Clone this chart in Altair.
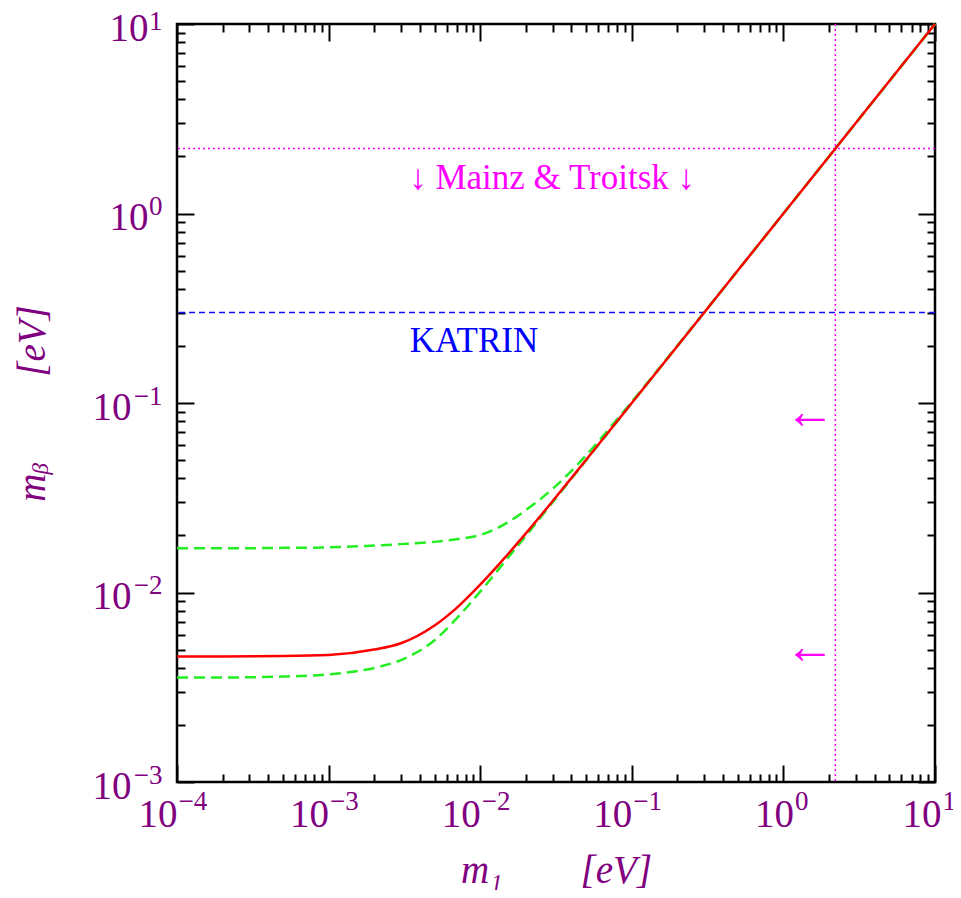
import altair as alt
import pandas as pd

# ---------------- data ----------------
m1 = [1e-4, 2e-4, 5e-4, 1e-3, 2e-3, 3e-3, 5e-3, 7e-3, 1e-2, 1.5e-2, 2e-2,
      3e-2, 5e-2, 7e-2, 0.1, 0.2, 0.5, 1.0, 2.0, 5.0, 10.0]
m_beta_best = [0.0046, 0.0046, 0.00462, 0.00468, 0.0050, 0.0054, 0.0067, 0.0083,
               0.0110, 0.0157, 0.0205, 0.0303, 0.0502, 0.0701, 0.100, 0.200,
               0.500, 1.0, 2.0, 5.0, 10.0]
m_beta_low = [0.00356, 0.00356, 0.0036, 0.0037, 0.0040, 0.0044, 0.0056, 0.0073,
              0.0101, 0.0150, 0.0199, 0.0299, 0.0499, 0.0699, 0.0999, 0.200,
              0.500, 1.0, 2.0, 5.0, 10.0]
m_beta_high = [0.0171, 0.0171, 0.0172, 0.0173, 0.0177, 0.0180, 0.0185, 0.0191,
               0.0201, 0.0233, 0.0272, 0.0352, 0.0530, 0.0723, 0.1015, 0.2008,
               0.500, 1.0, 2.0, 5.0, 10.0]

mainz_troitsk_limit = [2.2]
katrin_sensitivity = [0.3]

annot_text = ["↓ Mainz & Troitsk ↓", "KATRIN"]
annot_x = [0.0298, 0.0091]
annot_y = [1.54, 0.212]
annot_color = ["#ff00ff", "#0000ff"]

arrow_x = [1.5, 1.5]
arrow_y = [0.089, 0.00512]

x_decades = [1e-4, 1e-3, 1e-2, 1e-1, 1.0, 10.0]
y_decades = [1e-3, 1e-2, 1e-1, 1.0, 10.0]
x_exponents = [-4, -3, -2, -1, 0, 1]
y_exponents = [-3, -2, -1, 0, 1]
x_exp_labels = ["−4", "−3", "−2", "−1", "0", "1"]
y_exp_labels = ["−3", "−2", "−1", "0", "1"]
mantissa_label = "10"
minor_multipliers = [1, 2, 3, 4, 5, 6, 7, 8, 9]

x_title = "m₁\u2003\u2003[eV]"
y_title = "mᵦ\u2003\u2003\u2009[eV]"

# ---------------- styling ----------------
W = 758
H = 758
PURPLE = "#800080"
GREEN = "#22ee22"
FONT = "Liberation Serif"
LABEL_SIZE = 39
EXP_SIZE = 27

x_ticks = [d * k for d in x_decades[:-1] for k in minor_multipliers] + [x_decades[-1]]
y_ticks = [d * k for d in y_decades[:-1] for k in minor_multipliers] + [y_decades[-1]]

MAJOR = "abs(log(datum.value)/LN10 - round(log(datum.value)/LN10)) < 0.001"
NEG = "datum.value < 0.99"
LAST = "datum.value > 5"


def exp_expr(exps, labels):
    expr = "''"
    for e, l in reversed(list(zip(exps, labels))):
        expr = f"round(log(datum.value)/LN10) == {e} ? '{l}' : ({expr})"
    return expr


def cond(neg_value, pos_value):
    return {"condition": {"test": NEG, "value": neg_value}, "value": pos_value}


def cond3(neg_value, last_value, pos_value):
    return {"condition": [{"test": NEG, "value": neg_value},
                          {"test": LAST, "value": last_value}],
            "value": pos_value}


xscale = alt.Scale(type="log", domain=[x_decades[0], x_decades[-1]], nice=False)
yscale = alt.Scale(type="log", domain=[y_decades[0], y_decades[-1]], nice=False)


def tick_axis(orient, values):
    return alt.Axis(orient=orient, offset=-W, values=values, labels=False,
                    title=None, domain=False, grid=False, ticks=True,
                    tickColor="black", tickWidth=2,
                    tickSize={"condition": {"test": MAJOR, "value": 17}, "value": 8})


common_lab = dict(ticks=False, tickSize=0, domain=False, grid=False, title=None,
                  labelFont=FONT, labelColor=PURPLE, labelFlush=False,
                  labelOverlap=False, labelBaseline="alphabetic")

x_mant_axis = alt.Axis(orient="bottom", values=x_decades, labelExpr=f"'{mantissa_label}'",
                       labelFontSize=LABEL_SIZE, labelAlign="right", labelPadding=44,
                       labelOffset=cond3(0, 6, 10), **common_lab)
x_exp_axis = alt.Axis(orient="bottom", values=x_decades,
                      labelExpr=exp_expr(x_exponents, x_exp_labels),
                      labelFontSize=EXP_SIZE, labelAlign="left", labelPadding=27,
                      labelOffset=cond3(1, 7, 11), **common_lab)
y_mant_axis = alt.Axis(orient="left", values=y_decades, labelExpr=f"'{mantissa_label}'",
                       labelFontSize=LABEL_SIZE, labelAlign="right",
                       labelPadding=cond(46, 29), labelOffset=16, **common_lab)
y_exp_axis = alt.Axis(orient="left", values=y_decades,
                      labelExpr=exp_expr(y_exponents, y_exp_labels),
                      labelFontSize=EXP_SIZE, labelAlign="right", labelPadding=15,
                      labelOffset={"condition": {"test": LAST, "value": 5}, "value": 1},
                      **common_lab)

title_common = dict(labels=False, ticks=False, tickSize=0, domain=False, grid=False,
                    titleFont=FONT, titleFontSize=LABEL_SIZE, titleFontStyle="italic",
                    titleFontWeight="normal", titleColor=PURPLE,
                    titleBaseline="alphabetic")
x_title_axis = alt.Axis(orient="bottom", title=x_title, titleY=100, **title_common)
y_title_axis = alt.Axis(orient="left", title=y_title, titleX=-133, titleAngle=270,
                        **title_common)

curves = pd.DataFrame({
    "m1": m1 * 3,
    "mb": m_beta_best + m_beta_low + m_beta_high,
    "series": ["best"] * len(m1) + ["low"] * len(m1) + ["high"] * len(m1),
})
green_df = curves[curves.series != "best"]
red_df = curves[curves.series == "best"]

green = alt.Chart(green_df).mark_line(
    color=GREEN, strokeWidth=2.5, strokeDash=[11, 6], interpolate="monotone"
).encode(
    x=alt.X("m1:Q", scale=xscale, axis=x_exp_axis),
    y=alt.Y("mb:Q", scale=yscale, axis=y_exp_axis),
    detail="series:N",
)

red = alt.Chart(red_df).mark_line(
    color="#ff0000", strokeWidth=2.5, interpolate="monotone"
).encode(
    x=alt.X("m1:Q", scale=xscale, axis=x_mant_axis),
    y=alt.Y("mb:Q", scale=yscale, axis=y_mant_axis),
)

h_mainz = alt.Chart(pd.DataFrame({"y": mainz_troitsk_limit})).mark_rule(
    color="#ff00ff", strokeWidth=1.5, strokeDash=[2, 3]
).encode(y=alt.Y("y:Q", scale=yscale, axis=tick_axis("right", y_ticks)))

h_katrin = alt.Chart(pd.DataFrame({"y": katrin_sensitivity})).mark_rule(
    color="#1010ff", strokeWidth=1.5, strokeDash=[6, 4]
).encode(y=alt.Y("y:Q", scale=yscale, axis=None))

v_mainz = alt.Chart(pd.DataFrame({"x": mainz_troitsk_limit})).mark_rule(
    color="#ff00ff", strokeWidth=1.5, strokeDash=[2, 3]
).encode(x=alt.X("x:Q", scale=xscale, axis=tick_axis("bottom", x_ticks)))

annot = alt.Chart(pd.DataFrame({
    "x": annot_x, "y": annot_y, "t": annot_text, "c": annot_color
})).mark_text(font=FONT, fontSize=35, align="center", baseline="middle").encode(
    x=alt.X("x:Q", scale=xscale, axis=tick_axis("top", x_ticks)),
    y=alt.Y("y:Q", scale=yscale, axis=tick_axis("left", y_ticks)),
    text="t:N",
    color=alt.Color("c:N", scale=None),
)

arrows = alt.Chart(pd.DataFrame({"x": arrow_x, "y": arrow_y, "t": ["←", "←"]})).mark_text(
    font=FONT, fontSize=50, align="center", baseline="middle", color="#ff00ff"
).encode(
    x=alt.X("x:Q", scale=xscale, axis=x_title_axis),
    y=alt.Y("y:Q", scale=yscale, axis=y_title_axis),
    text="t:N",
)

chart = alt.layer(green, h_mainz, h_katrin, v_mainz, red, annot, arrows).resolve_axis(
    x="independent", y="independent"
).properties(
    width=W, height=H,
    padding={"left": 169, "top": 16, "right": 18, "bottom": 108},
    autosize=alt.AutoSizeParams(type="none"),
).configure(background="white").configure_view(stroke="black", strokeWidth=2.5)

chart.save("out.html", embed_options={"renderer": "svg", "actions": False})
